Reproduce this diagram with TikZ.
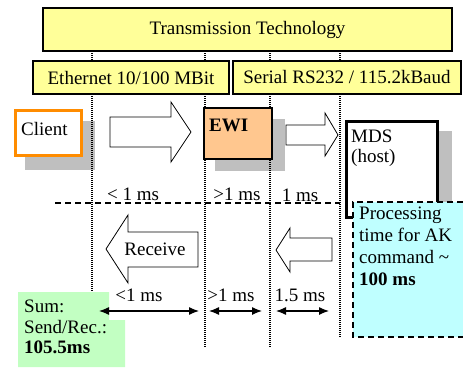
\documentclass[tikz,border=0pt]{standalone}
\usepackage{fontspec}
\setmainfont{Liberation Serif}
\usetikzlibrary{arrows.meta}
\definecolor{techyellow}{rgb}{1,1,0.6}
\definecolor{clientorange}{rgb}{1,0.55,0}
\definecolor{ewipeach}{rgb}{1,0.78,0.56}
\definecolor{proccyan}{rgb}{0.75,1,1}
\definecolor{sumgreen}{rgb}{0.76,1,0.76}
\definecolor{shadowgray}{rgb}{0.75,0.75,0.75}

\begin{document}
\begin{tikzpicture}[x=1pt, y=-1pt, font=\fontsize{19}{22}\selectfont,
    techbox/.style={draw, line width=1.5pt, fill=techyellow, inner sep=0pt},
    sepline/.style={line width=1.2pt, dash pattern=on 1pt off 1pt},
    blockarrow/.style={draw, line width=0.8pt, fill=white},
    span/.style={line width=1.2pt, {Latex[length=10pt,width=8pt]}-{Latex[length=10pt,width=8pt]}}]
    \useasboundingbox (0,0) rectangle (463,367);

    \node[techbox, minimum width=409, minimum height=43] (tech) at (247.5,29.5) {Transmission Technology};
    \node[techbox, minimum width=196, minimum height=33] (eth) at (131,77.5) {Ethernet 10/100 MBit};
    \node[techbox, minimum width=228, minimum height=33] (serial) at (347,77.5) {Serial RS232 / 115.2kBaud};

    \fill[shadowgray] (25,121) rectangle (95,170);
    \fill[shadowgray] (215,119) rectangle (285,171);
    \fill[shadowgray] (438,131) rectangle (452,210);

    \draw[sepline] (92,51) -- (92,61);
    \draw[sepline] (205,51) -- (205,61);
    \draw[sepline] (270,51) -- (270,61);
    \draw[sepline] (340,51) -- (340,61);
    \draw[sepline] (92,94) -- (92,292);
    \draw[sepline] (205,94) -- (205,347);
    \draw[sepline] (270,94) -- (270,347);
    \draw[sepline] (340,94) -- (340,338);
    \draw[line width=1.2pt, dash pattern=on 6pt off 4pt] (55,203) -- (340,203);

    \node[draw=clientorange, line width=3pt, fill=white, minimum width=66, minimum height=45] (client) at (48.5,133) {};
    \node[anchor=west, inner sep=0pt] (clienttxt) at (21,129) {Client};

    \draw[blockarrow] (110,117) -- (171,117) -- (171,102) -- (191,132) -- (171,162) -- (171,147) -- (110,147) -- cycle;

    \node[draw, line width=1.5pt, fill=ewipeach, minimum width=68, minimum height=51] (ewi) at (238,133.5) {};
    \node[anchor=west, inner sep=0pt, font=\fontsize{19}{22}\selectfont\bfseries] (ewitxt) at (209,125) {EWI};

    \draw[blockarrow] (286,125) -- (325,125) -- (325,113) -- (338,135) -- (325,156) -- (325,145) -- (286,145) -- cycle;

    \node[draw, line width=3pt, fill=white, minimum width=91, minimum height=96] (mds) at (392,169.5) {};
    \node[anchor=north west, inner sep=0pt, align=left, font=\fontsize{19}{20}\selectfont] (mdstxt) at (351,130) {MDS\\(host)};

    \fill[proccyan] (353,202) rectangle (463,337);
    \draw[line width=1.5pt, dash pattern=on 6pt off 4pt] (463,202) -- (353,202) -- (353,337) -- (463,337);
    \node[anchor=north west, inner sep=0pt, align=left] (proctxt) at (359,207) {Processing\\time for AK\\command \textasciitilde\\\textbf{100 ms}};

    \draw[blockarrow] (198,232) -- (128,232) -- (128,215) -- (106,249) -- (128,283) -- (128,267) -- (198,267) -- cycle;
    \node (receive) at (155,249) {Receive};
    \draw[blockarrow] (332,238) -- (290,238) -- (290,228) -- (276,250) -- (290,272) -- (290,261) -- (332,261) -- cycle;

    \node (sendeth) at (133,194) {< 1 ms};
    \node (sendewi) at (237,194) {>1 ms};
    \node (sendser) at (300,195) {1 ms};
    \node (receth) at (139,295) {<1 ms};
    \node (recewi) at (231,295) {>1 ms};
    \node (recser) at (300,295) {1.5 ms};

    \fill[sumgreen] (18,292) -- (109,292) -- (109,320) -- (125,320) -- (125,367) -- (18,367) -- cycle;
    \node[anchor=north west, inner sep=0pt, align=left, font=\fontsize{19}{20.5}\selectfont] (sumtxt) at (24,300) {Sum:\\Send/Rec.:\\\textbf{105.5ms}};

    \coordinate (ethl) at (99,311);
    \coordinate (ethr) at (199,311);
    \coordinate (ewil) at (209,311);
    \coordinate (ewir) at (262,311);
    \coordinate (serl) at (276,311);
    \coordinate (serr) at (329,311);
    \draw[span] (ethl) -- (ethr);
    \draw[span] (ewil) -- (ewir);
    \draw[span] (serl) -- (serr);
\end{tikzpicture}
\end{document}
